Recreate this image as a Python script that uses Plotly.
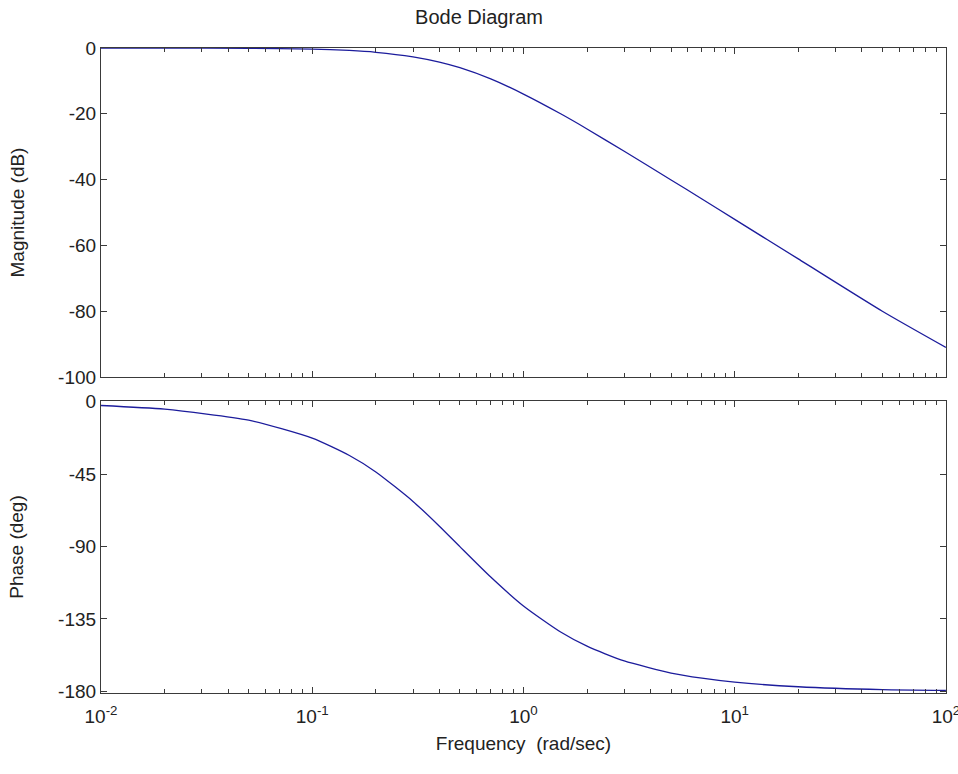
import plotly.graph_objects as go
from plotly.subplots import make_subplots

freq = [0.01, 0.02, 0.05, 0.1, 0.15, 0.2, 0.3, 0.4, 0.5, 0.7, 1.0, 1.5, 2.0, 3.0, 5.0, 7.0, 10.0, 20.0, 50.0, 100.0]
# Magnitude (dB)
magnitude_db = [0.0, -0.01, -0.09, -0.34, -0.75, -1.3, -2.7, -4.3, -6.0, -9.4, -14.0, -20.0, -24.6, -31.4, -40.1, -45.9, -52.1, -64.1, -80.0, -91.0]
# Phase (deg)
phase_deg = [-2.3, -4.6, -11.4, -22.6, -33.4, -43.6, -61.9, -77.3, -90.0, -108.9, -126.9, -143.1, -151.9, -161.1, -168.6, -171.8, -174.3, -177.1, -178.9, -179.4]

x_tickvals = [0.01, 0.1, 1, 10, 100]
x_ticktext = ["10<sup>-2</sup>", "10<sup>-1</sup>", "10<sup>0</sup>", "10<sup>1</sup>", "10<sup>2</sup>"]
mag_ticks = [0, -20, -40, -60, -80, -100]
phase_ticks = [0, -45, -90, -135, -180]

LINE = "#1c1c9c"
AX = "#3a3a3a"
TXT = "#222222"
FONT = "Liberation Sans, Arial, sans-serif"
FS = 19

fig = make_subplots(rows=2, cols=1, shared_xaxes=False, vertical_spacing=0.0)

fig.add_trace(go.Scatter(x=freq, y=magnitude_db, mode="lines",
                         line=dict(color=LINE, width=1.3, shape="spline", smoothing=0.6),
                         showlegend=False), row=1, col=1)
fig.add_trace(go.Scatter(x=freq, y=phase_deg, mode="lines",
                         line=dict(color=LINE, width=1.3, shape="spline", smoothing=0.6),
                         showlegend=False), row=2, col=1)

common_x = dict(type="log", range=[-2, 2.0004], showline=True, linecolor=AX, linewidth=1.2,
                mirror="allticks", ticks="inside", ticklen=6, tickcolor=AX,
                tickvals=x_tickvals, ticktext=x_ticktext, showgrid=False, zeroline=False,
                minor=dict(ticks="inside", ticklen=4, tickcolor=AX, dtick="D1", showgrid=False),
                ticklabelstandoff=6, ticklabeloverflow="allow",
                tickfont=dict(family=FONT, size=FS, color=TXT))
common_y = dict(showline=True, linecolor=AX, linewidth=1.2, mirror="allticks",
                ticks="inside", ticklen=6, tickcolor=AX, showgrid=False, zeroline=False,
                tickfont=dict(family=FONT, size=FS, color=TXT))

fig.update_xaxes(**common_x)
fig.update_xaxes(showticklabels=False, row=1, col=1)
fig.update_xaxes(title=dict(text="Frequency  (rad/sec)", font=dict(family=FONT, size=FS, color=TXT), standoff=10),
                 row=2, col=1)
fig.update_yaxes(**common_y)
fig.update_yaxes(range=[-100, 0], tickvals=mag_ticks, ticktext=[str(v) for v in mag_ticks],
                 title=dict(text="Magnitude (dB)", font=dict(family=FONT, size=FS, color=TXT), standoff=28),
                 row=1, col=1)
fig.update_yaxes(range=[-181, 0.5], tickvals=phase_ticks, ticktext=[str(v) for v in phase_ticks],
                 title=dict(text="Phase (deg)", font=dict(family=FONT, size=FS, color=TXT), standoff=29),
                 row=2, col=1)

fig.update_layout(
    width=958, height=774,
    margin=dict(l=101, r=12, t=48, b=81, autoexpand=False),
    paper_bgcolor="white", plot_bgcolor="white",
    title=dict(text="Bode Diagram", x=0.5, xanchor="center", y=1 - 17 / 774, yanchor="middle",
               font=dict(family=FONT, size=20, color=TXT)),
    xaxis=dict(domain=[0, 1]),
    xaxis2=dict(domain=[0, 1]),
    yaxis=dict(domain=[0.4899, 1.0]),
    yaxis2=dict(domain=[0.0, 0.4527]),
)

fig.write_html("out.html")
